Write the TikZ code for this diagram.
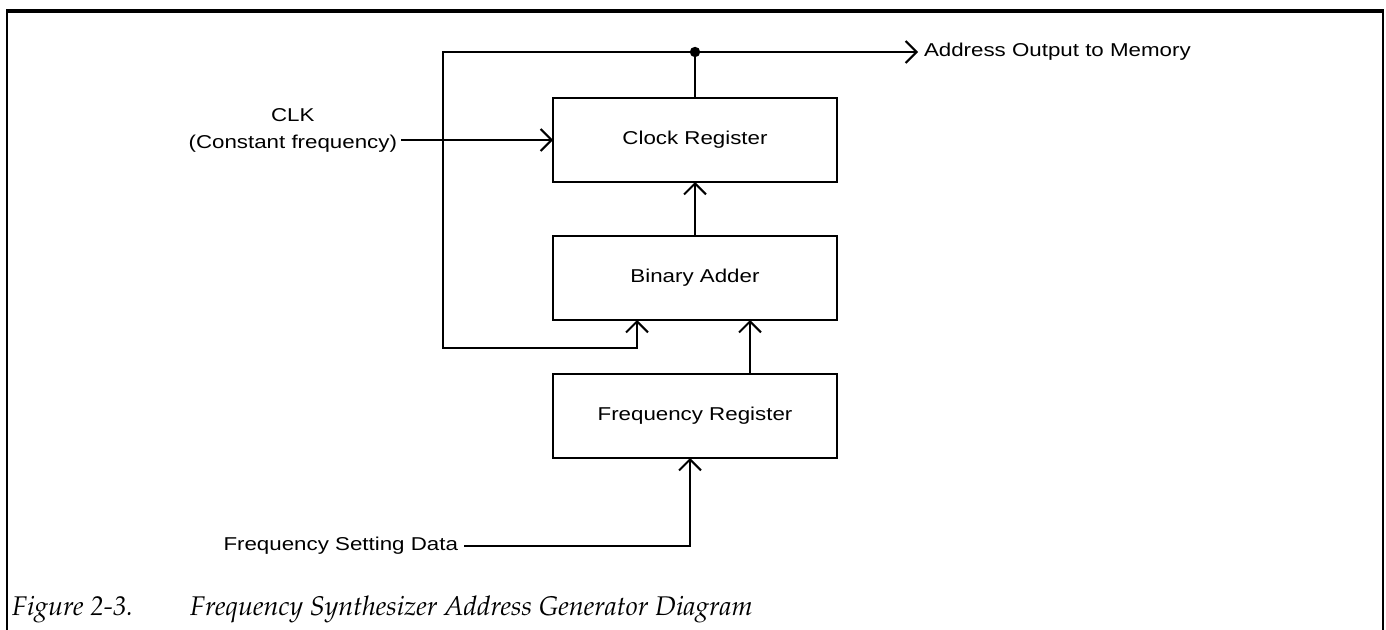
\documentclass[tikz,border=0pt]{standalone}
\usepackage{fontspec}
\setmainfont{Liberation Serif}
\newfontfamily\lab[FakeStretch=1.2]{Liberation Sans}
\usetikzlibrary{arrows.meta}
\begin{document}
\begin{tikzpicture}[x=0.5pt,y=-0.5pt,
  line width=1pt,
  blk/.style={draw, minimum width=142pt, minimum height=42pt, inner sep=0pt, outer sep=0pt,
    font=\lab\fontsize{9.3}{11}\selectfont},
  lbl/.style={inner ysep=0pt, inner xsep=2pt, outer sep=0pt, font=\lab\fontsize{9.3}{13.5}\selectfont},
  captext/.style={inner sep=0pt, outer sep=0pt, font=\usefont{T1}{ppl}{m}{it}\fontsize{13.5}{15}\selectfont},
  arr/.style={-{Straight Barb[length=5.5pt,width=11pt,line width=1pt]}}
]
\useasboundingbox (0,0) rectangle (1386,630);
% frame
\draw[line width=1.6pt] (6,11) -- (1384,11);
\draw[line width=1.1pt] (7,11) -- (7,630);
\draw[line width=1.1pt] (1383,11) -- (1383,630);
% blocks
\node[blk] (clk) at (695,140) {Clock Register};
\node[blk] (add) at (695,278) {Binary Adder};
\node[blk] (frq) at (695,416) {Frequency Register};
% tap point
\coordinate (tap) at (695,52);
\fill (tap) circle (2.6pt);
\draw (clk.north) -- (tap);
\node[lbl, anchor=west, inner xsep=3pt] (addr) at (918,52) {Address Output to Memory};
\draw[arr] (tap) -- (addr.west);
% feedback
\draw[arr] (tap) -| (443,348) -| ([xshift=-29pt]add.south);
% clock input
\node[lbl, align=center, anchor=east] (clkin) at (401,130) {CLK\\(Constant frequency)};
\draw[arr] (clkin.east |- clk.west) -- (clk.west);
% internal
\draw[arr] (add.north) -- (clk.south);
\draw[arr] ([xshift=27.5pt]frq.north) -- ([xshift=27.5pt]add.south);
% frequency setting data
\node[lbl, anchor=east, inner xsep=3pt] (fsd) at (464,546) {Frequency Setting Data};
\draw[arr] (fsd.east) -| ([xshift=-2.5pt]frq.south);
% caption
\node[captext, anchor=base west] (fig) at (12,615) {Figure 2-3.};
\node[captext, anchor=base west] (capt) at (190,615) {Frequency Synthesizer Address Generator Diagram};
\end{tikzpicture}
\end{document}
